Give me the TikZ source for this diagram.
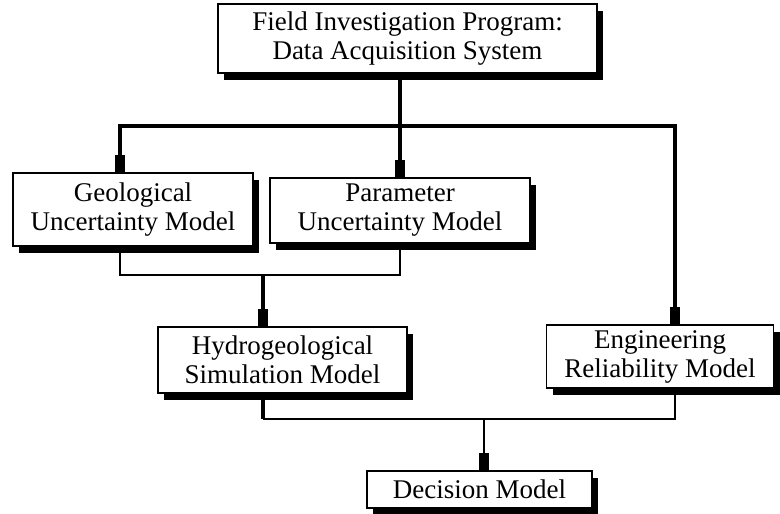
\documentclass[tikz,border=0pt]{standalone}
\usepackage{fontspec}
\setmainfont{Liberation Serif}
\usetikzlibrary{shadows,arrows.meta,calc}
\begin{document}
\begin{tikzpicture}[x=1pt,y=-1pt,
  box/.style={draw, line width=1.6pt, fill=white, align=center, inner sep=0pt,
    font=\fontsize{27}{29}\selectfont,
    drop shadow={shadow xshift=6pt, shadow yshift=-6.5pt, opacity=1, fill=black}},
  thickline/.style={line width=4.5pt, line join=miter},
  thinline/.style={line width=1.7pt, line join=miter},
  blocktip/.style={-{Rectangle[length=17pt,width=10pt]}}]
\useasboundingbox (0,0) rectangle (780,514);
\node[box, minimum width=379pt, minimum height=69pt] (T) at (407.5,38.5) {Field Investigation Program:\\Data Acquisition System};
\node[box, minimum width=240pt, minimum height=73pt] (G) at (133,209.5) {Geological\\Uncertainty Model};
\node[box, minimum width=260pt, minimum height=65pt] (P) at (400,210.5) {Parameter\\Uncertainty Model};
\node[box, minimum width=249pt, minimum height=66pt] (H) at (282.5,360) {Hydrogeological\\Simulation Model};
\node[box, minimum width=227pt, minimum height=63pt] (E) at (660,356.5) {Engineering\\Reliability Model};
\node[box, minimum width=225pt, minimum height=37pt] (D) at (479.5,489.5) {Decision Model};
\coordinate (gN) at ([xshift=-13pt]G.north);
\coordinate (gS) at ([xshift=-13pt]G.south);
\coordinate (eN) at ([xshift=15pt]E.north);
\coordinate (eS) at ([xshift=15pt]E.south);
\coordinate (dN) at ([xshift=4.5pt]D.north);
\coordinate (bus) at (400,126);
\coordinate (j1) at (263,275);
\coordinate (j2) at (484,419);
\draw[thickline] (T.south -| P.north) -- (bus);
\draw[thickline,blocktip] (bus) -- (P.north);
\draw[thickline,blocktip] (bus) -| (gN);
\draw[thickline,blocktip] (bus) -| (eN);
\draw[thinline] (gS) |- (j1) -| (P.south);
\draw[thickline,blocktip] (j1) -- (j1 |- H.north);
\draw[thickline] (j1 |- H.south) -- (j1 |- j2);
\draw[thinline] (j1 |- j2) -| (eS);
\draw[thinline,blocktip] (j2) -- (dN);
\end{tikzpicture}
\end{document}
